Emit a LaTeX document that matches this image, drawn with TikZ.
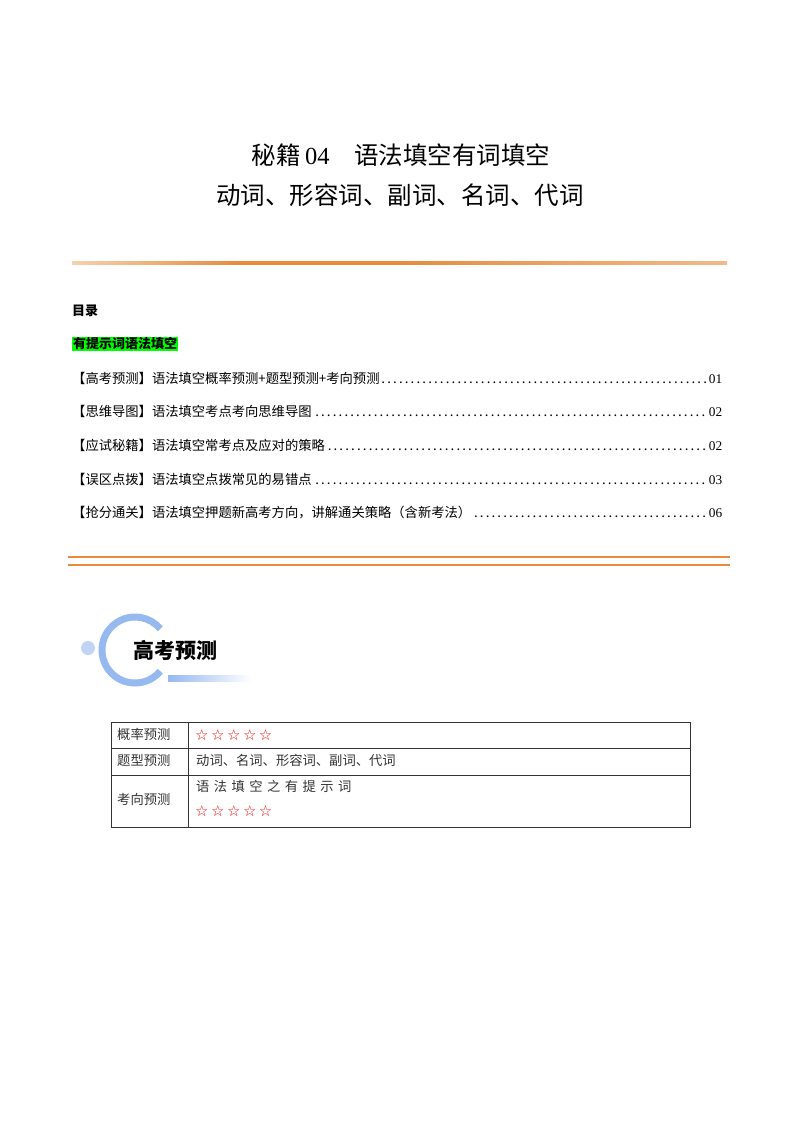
\documentclass[tikz,border=0pt]{standalone}
\usepackage{fontspec}
\setmainfont{Liberation Serif}
\newfontfamily\cjk{Noto Sans CJK SC}
\newfontfamily\sym{DejaVu Sans}
\usetikzlibrary{shadings,calc}
\definecolor{org}{RGB}{232,140,60}
\definecolor{lb}{RGB}{150,185,240}
\definecolor{hl}{RGB}{0,255,0}
\begin{document}
\begin{tikzpicture}[x=1pt,y=-1pt,
  toc/.style={anchor=west,inner sep=0pt,text width=650pt,font=\cjk\fontsize{13.3}{15}\selectfont},
  cell/.style={anchor=west,inner sep=0pt,font=\cjk\fontsize{13.3}{15}\selectfont,text=black!80},
  stars/.style={anchor=west,inner sep=0pt,font=\sym\bfseries\fontsize{15}{17}\selectfont,text=red}]
\useasboundingbox (0,0) rectangle (800,1132);
\fill[white] (0,0) rectangle (800,1132);
\node (t1) at (401,155) {\cjk\fontsize{24.5}{28}\selectfont 秘籍\,\rmfamily 04\cjk\quad 语法填空有词填空};
\node (t2) at (400,195) {\cjk\fontsize{24.5}{28}\selectfont 动词、形容词、副词、名词、代词};
\shade[left color=org!40,right color=org,middle color=org] (72,261) rectangle (400,264);
\shade[left color=org,right color=org!60] (400,261) rectangle (727,264);
\node[anchor=west,inner sep=0pt] (ml) at (72,311) {\cjk\bfseries\fontsize{13}{15}\selectfont 目录};
\node[anchor=west,inner sep=1pt,fill=hl] (hs) at (72,344) {\cjk\bfseries\fontsize{13}{15}\selectfont 有提示词语法填空};
\node[toc] (e1) at (72,378) {【高考预测】语法填空概率预测+题型预测+考向预测\dotfill\rmfamily 01};
\node[toc] (e2) at (72,411) {【思维导图】语法填空考点考向思维导图\dotfill\rmfamily 02};
\node[toc] (e3) at (72,445) {【应试秘籍】语法填空常考点及应对的策略\dotfill\rmfamily 02};
\node[toc] (e4) at (72,479) {【误区点拨】语法填空点拨常见的易错点\dotfill\rmfamily 03};
\node[toc] (e5) at (72,513) {【抢分通关】语法填空押题新高考方向，讲解通关策略（含新考法）\dotfill\rmfamily 06};
\draw[org,line width=1.2pt] (68,557) -- (730,557);
\draw[org,line width=1.2pt] (68,565) -- (730,565);
% logo
\fill[lb!60] (88,648) circle (7);
\draw[lb,line width=7pt] ($(135,650)+(40:33)$) arc (40:320:33);
\shade[left color=lb,right color=white] (168,675) rectangle (252,681);
\node[anchor=west,inner sep=0pt] (lg) at (133,650) {\cjk\bfseries\fontsize{21}{25}\selectfont 高考预测};
% table
\draw[black!80,line width=0.8pt] (111,722) rectangle (690,827);
\draw[black!80,line width=0.8pt] (188,722) -- (188,827);
\draw[black!80,line width=0.8pt] (111,748) -- (690,748);
\draw[black!80,line width=0.8pt] (111,775) -- (690,775);
\node[cell] (c1) at (117,734) {概率预测};
\node[cell] (c2) at (117,760) {题型预测};
\node[cell] (c3) at (117,799) {考向预测};
\node[stars] (s1) at (195,735) {☆\,☆\,☆\,☆\,☆};
\node[cell] (d2) at (196,760) {动词、名词、形容词、副词、代词};
\node[cell] (d3) at (196,786) {语\,\,法\,\,填\,\,空\,\,之\,\,有\,\,提\,\,示\,\,词};
\node[stars] (s3) at (195,811) {☆\,☆\,☆\,☆\,☆};
\end{tikzpicture}
\end{document}
